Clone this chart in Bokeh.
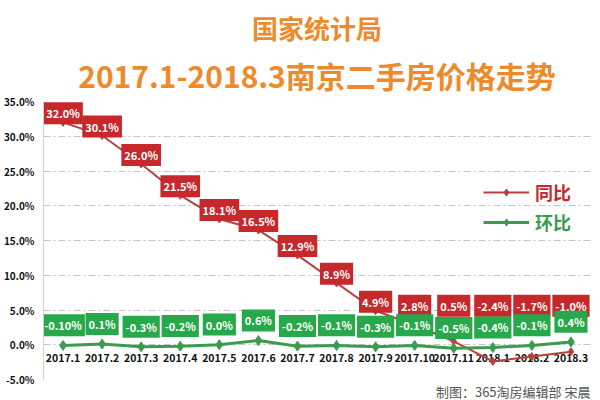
from bokeh.plotting import figure
from bokeh.models import (Range1d, FactorRange, FixedTicker, PrintfTickFormatter,
                          Title, Legend, LegendItem, ColumnDataSource)
from bokeh.core.properties import value
from bokeh.embed import file_html
from bokeh.resources import INLINE

months = ["2017.1", "2017.2", "2017.3", "2017.4", "2017.5", "2017.6", "2017.7",
          "2017.8", "2017.9", "2017.10", "2017.11", "2018.1", "2018.2", "2018.3"]
yoy = [32.0, 30.1, 26.0, 21.5, 18.1, 16.5, 12.9, 8.9, 4.9, 2.8, 0.5, -2.4, -1.7, -1.0]
mom = [-0.10, 0.1, -0.3, -0.2, 0.0, 0.6, -0.2, -0.1, -0.3, -0.1, -0.5, -0.4, -0.1, 0.4]
mom_text = ["-0.10%", "0.1%", "-0.3%", "-0.2%", "0.0%", "0.6%", "-0.2%",
            "-0.1%", "-0.3%", "-0.1%", "-0.5%", "-0.4%", "-0.1%", "0.4%"]
y_ticks = [-5, 0, 5, 10, 15, 20, 25, 30, 35]

title1 = "国家统计局"
title2 = "2017.1-2018.3南京二手房价格走势"
footer = "制图：365淘房编辑部 宋晨"
name_yoy = "同比"
name_mom = "环比"

RED_LINE = "#b8403f"
RED_BOX = "#c6282c"
GREEN_LINE = "#3a9c4c"
GREEN_BOX = "#27a84a"
ORANGE = "#ee8a2a"
FONT = "Noto Sans CJK SC"

src = ColumnDataSource(dict(
    m=months, yoy=yoy, mom=mom,
    yoy_t=[f"{v:.1f}%" for v in yoy],
    mom_t=mom_text,
    yoy_ly=[max(v, 4.3) + 1.3 for v in yoy],
    mom_ly=[v + 2.9 for v in mom],
    cat_y=[-1.9] * len(months),
))

p = figure(width=600, height=400, x_range=FactorRange(*months), y_range=Range1d(-5, 35),
           output_backend="svg", toolbar_location=None,
           min_border_left=40, min_border_right=10, min_border_top=101, min_border_bottom=4)
p.outline_line_color = None
p.background_fill_color = "white"

# titles
p.add_layout(Title(text=title2, align="center", text_font=FONT, text_font_size="30px",
                   text_font_style="bold", text_color=ORANGE, standoff=9), "above")
p.add_layout(Title(text=title1, align="center", text_font=FONT, text_font_size="26px",
                   text_font_style="bold", text_color=ORANGE, standoff=2), "above")
p.add_layout(Title(text=footer, align="right", text_font=FONT, text_font_size="13px",
                   text_font_style="normal", text_color="#555555", standoff=0), "below")

# axes
p.xaxis.visible = False
p.yaxis.ticker = FixedTicker(ticks=y_ticks)
p.yaxis.formatter = PrintfTickFormatter(format="%.1f%%")
p.yaxis.major_tick_line_color = None
p.yaxis.minor_tick_line_color = None
p.yaxis.axis_line_color = "#cfcfcf"
p.yaxis.major_label_text_font = FONT
p.yaxis.major_label_text_font_style = "bold"
p.yaxis.major_label_text_font_size = "10px"
p.yaxis.major_label_text_color = "#111111"
p.yaxis.major_label_standoff = 3
p.xgrid.grid_line_color = None
p.ygrid.ticker = FixedTicker(ticks=y_ticks)
p.ygrid.grid_line_color = "#c4c4c4"
p.ygrid.grid_line_dash = "7 3 2 3"
p.ygrid.grid_line_width = 1

# category labels drawn at the zero line
p.text(x="m", y="cat_y", text="m", source=src, text_align="center", text_baseline="middle",
       text_font=value(FONT), text_font_style="bold", text_font_size="10.5px", text_color="#111111")

# lines
r_line = p.line("m", "yoy", source=src, line_color=RED_LINE, line_width=2)
r_pts = p.scatter("m", "yoy", source=src, marker="diamond", size=8, color=RED_LINE)
g_line = p.line("m", "mom", source=src, line_color=GREEN_LINE, line_width=3)
g_pts = p.scatter("m", "mom", source=src, marker="diamond", size=10, color=GREEN_LINE)

# data labels
p.text(x="m", y="yoy_ly", text="yoy_t", source=src, text_align="center", text_baseline="middle",
       text_font=value(FONT), text_font_style="bold", text_font_size="11px", text_color="white",
       background_fill_color=RED_BOX, padding=3)
p.text(x="m", y="mom_ly", text="mom_t", source=src, text_align="center", text_baseline="middle",
       text_font=value(FONT), text_font_style="bold", text_font_size="11px", text_color="white",
       background_fill_color=GREEN_BOX, padding=3)

# legends
for renderers, name, col, loc in [([r_line, r_pts], name_yoy, RED_BOX, (440, 174)),
                                  ([g_line, g_pts], name_mom, GREEN_LINE, (440, 144))]:
    lg = Legend(items=[LegendItem(label=name, renderers=renderers)], location=loc,
                label_text_font=FONT, label_text_font_size="18px", label_text_font_style="bold",
                label_text_color=col, glyph_width=46, glyph_height=18, padding=0, margin=0,
                border_line_color=None, background_fill_alpha=0, label_standoff=6)
    p.add_layout(lg, "center")

open("out.html", "w").write(file_html(p, INLINE))
